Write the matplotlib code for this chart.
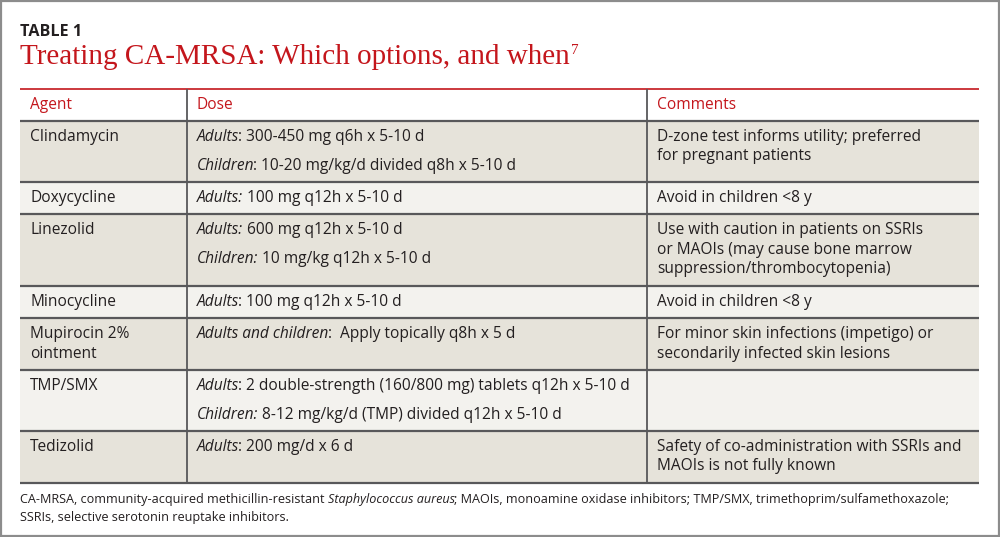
import matplotlib
matplotlib.use("Agg")
import matplotlib.pyplot as plt
from matplotlib.patches import Rectangle

# ---------------- data ----------------
table_label = "TABLE 1"
title = "Treating CA-MRSA: Which options, and when"
title_ref = "7"
headers = ["Agent", "Dose", "Comments"]
agents = ["Clindamycin", "Doxycycline", "Linezolid", "Minocycline",
          "Mupirocin 2%\nointment", "TMP/SMX", "Tedizolid"]
doses = [
    [("Adults", ": 300-450 mg q6h x 5-10 d"), ("Children", ": 10-20 mg/kg/d divided q8h x 5-10 d")],
    [("Adults:", " 100 mg q12h x 5-10 d")],
    [("Adults:", " 600 mg q12h x 5-10 d"), ("Children:", " 10 mg/kg q12h x 5-10 d")],
    [("Adults", ": 100 mg q12h x 5-10 d")],
    [("Adults and children", ":  Apply topically q8h x 5 d")],
    [("Adults", ": 2 double-strength (160/800 mg) tablets q12h x 5-10 d"),
     ("Children:", " 8-12 mg/kg/d (TMP) divided q12h x 5-10 d")],
    [("Adults", ": 200 mg/d x 6 d")],
]
comments = [
    ["D-zone test informs utility; preferred", "for pregnant patients"],
    ["Avoid in children <8 y"],
    ["Use with caution in patients on SSRIs", "or MAOIs (may cause bone marrow",
     "suppression/thrombocytopenia)"],
    ["Avoid in children <8 y"],
    ["For minor skin infections (impetigo) or", "secondarily infected skin lesions"],
    [],
    ["Safety of co-administration with SSRIs and", "MAOIs is not fully known"],
]
footnote_lines = [
    [("CA-MRSA, community-acquired methicillin-resistant ", False),
     ("Staphylococcus aureus", True),
     ("; MAOIs, monoamine oxidase inhibitors; TMP/SMX, trimethoprim/sulfamethoxazole;", False)],
    [("SSRIs, selective serotonin reuptake inhibitors.", False)],
]

# ---------------- layout ----------------
W, H = 1000, 537
left, right = 20, 979
col_x = [20, 187, 647, 979]
top_red = 89
row_edges = [121, 182, 214, 286, 318, 370, 431, 483]
pad_x = 10
first_line = 16
dose_step = 29
line_step = 19.5

RED = "#c4161c"
TXT = "#231f20"
GRID = "#58585a"
SHADE_DARK = "#e6e3da"
SHADE_LIGHT = "#f3f2ee"

BODY = ["Open Sans", "DejaVu Sans"]
BODY_SIZE = 11.2
FOOT_SIZE = 9.1
SERIF = ["Liberation Serif", "DejaVu Serif"]

fig = plt.figure(figsize=(W / 100, H / 100), dpi=100)
ax = fig.add_axes([0, 0, 1, 1])
ax.set_xlim(0, W)
ax.set_ylim(H, 0)
ax.axis("off")

# outer border
ax.add_patch(Rectangle((1, 1), W - 2, H - 2, fill=False, edgecolor="#8c8c8c", lw=1.6))


def rich(x, y, parts, size, family, color=TXT, space_pt=None):
    """parts: list of (text, italic). Drawn left to right, baseline aligned."""
    if space_pt is None:
        space_pt = size * 0.26
    txt0, it0 = parts[0]
    trailing = len(txt0) - len(txt0.rstrip(" "))
    t = ax.text(x, y, txt0.rstrip(" "), fontsize=size, family=family, color=color,
                style="italic" if it0 else "normal", va="center", ha="left")
    prev_it = it0
    for txt, it in parts[1:]:
        lead = len(txt) - len(txt.lstrip(" "))
        nsp = trailing + lead
        core = txt.strip(" ")
        trailing = len(txt) - len(txt.rstrip(" "))
        base = -0.9 if prev_it and nsp == 0 else 0.0
        t = ax.annotate(core, xy=(1, 0), xycoords=t,
                        xytext=(nsp * space_pt + base, 0), textcoords="offset points",
                        fontsize=size, family=family, color=color,
                        style="italic" if it else "normal", va="bottom", ha="left")
        prev_it = it
    return t


# title block
ax.text(left, 32, table_label, fontsize=11.6, fontweight="bold", family=BODY,
        color=TXT, va="center", ha="left")
tt = ax.text(left, 57, title, fontsize=21, family=SERIF,
             color=RED, va="center", ha="left")
ax.annotate(title_ref, xy=(1, 0.74), xycoords=tt, xytext=(0.6, 0),
            textcoords="offset points", fontsize=11,
            family=SERIF, color=RED, va="center", ha="left")

# row shading
for i in range(len(agents)):
    y0, y1 = row_edges[i], row_edges[i + 1]
    ax.add_patch(Rectangle((left, y0), right - left, y1 - y0,
                           facecolor=SHADE_DARK if i % 2 == 0 else SHADE_LIGHT,
                           edgecolor="none", zorder=0))

# lines
ax.plot([left, right], [top_red, top_red], color=RED, lw=1.2, solid_capstyle="butt")
for yy in row_edges:
    ax.plot([left, right], [yy, yy], color=GRID, lw=1.6, solid_capstyle="butt")
for cx in col_x[1:3]:
    ax.plot([cx, cx], [top_red, row_edges[-1]], color=GRID, lw=1.3, solid_capstyle="butt")

# headers
hy = (top_red + row_edges[0]) / 2
for cx, h in zip(col_x[:3], headers):
    ax.text(cx + pad_x, hy, h, fontsize=BODY_SIZE, family=BODY, color=RED,
            va="center", ha="left")

# body
for i, (ag, ds, cm) in enumerate(zip(agents, doses, comments)):
    y0 = row_edges[i] + first_line
    for k, line in enumerate(ag.split("\n")):
        ax.text(col_x[0] + pad_x, y0 + k * line_step, line, fontsize=BODY_SIZE,
                family=BODY, color=TXT, va="center", ha="left")
    for k, (it, rest) in enumerate(ds):
        rich(col_x[1] + pad_x, y0 + k * dose_step, [(it, True), (rest, False)],
             BODY_SIZE, BODY)
    for k, line in enumerate(cm):
        ax.text(col_x[2] + pad_x, y0 + k * line_step, line, fontsize=BODY_SIZE,
                family=BODY, color=TXT, va="center", ha="left")

# footnote
for k, parts in enumerate(footnote_lines):
    rich(left, 500 + k * 17, parts, FOOT_SIZE, BODY)

fig.savefig("out.png", dpi=100)
